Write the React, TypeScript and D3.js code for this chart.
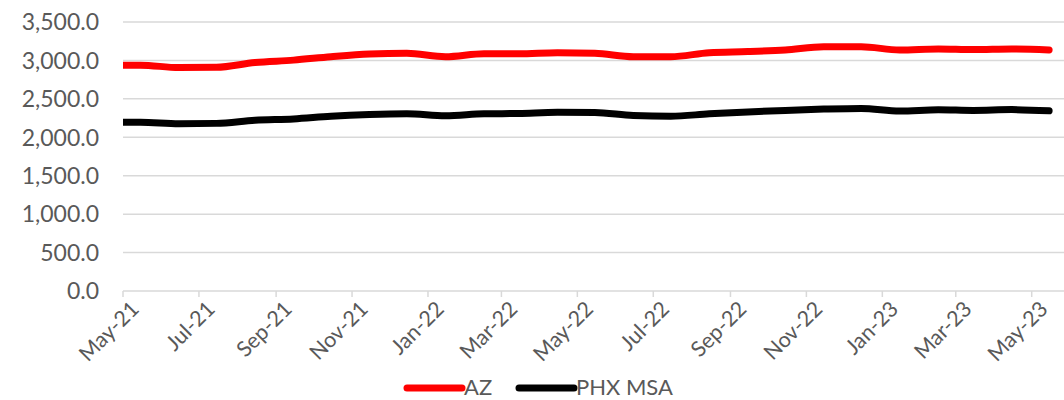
import React from "react";
import * as d3 from "d3";

const months = [
  "Apr-21", "May-21", "Jun-21", "Jul-21", "Aug-21", "Sep-21", "Oct-21", "Nov-21", "Dec-21",
  "Jan-22", "Feb-22", "Mar-22", "Apr-22", "May-22", "Jun-22", "Jul-22", "Aug-22", "Sep-22",
  "Oct-22", "Nov-22", "Dec-22", "Jan-23", "Feb-23", "Mar-23", "Apr-23", "May-23",
];
const azValues = [
  2938, 2938, 2907, 2911, 2973, 3004, 3049, 3084, 3093,
  3049, 3088, 3086, 3100, 3093, 3049, 3049, 3100, 3115,
  3137, 3177, 3177, 3137, 3150, 3142, 3150, 3137,
];
const phxValues = [
  2195, 2195, 2177, 2181, 2221, 2239, 2274, 2296, 2305,
  2279, 2305, 2310, 2325, 2323, 2283, 2274, 2305, 2330,
  2350, 2367, 2376, 2341, 2358, 2350, 2360, 2345,
];
const xTickLabels = [
  "May-21", "Jul-21", "Sep-21", "Nov-21", "Jan-22", "Mar-22", "May-22",
  "Jul-22", "Sep-22", "Nov-22", "Jan-23", "Mar-23", "May-23",
];
const yTicks = [0, 500, 1000, 1500, 2000, 2500, 3000, 3500];
const seriesNames = ["AZ", "PHX MSA"];
const seriesColors = ["#ff0000", "#000000"];

const W = 1064;
const H = 400;
const FONT = "Lato, 'Open Sans', sans-serif";
const TEXT = "#595959";
const GRID = "#d9d9d9";

export default function App() {
  const parse = d3.timeParse("%b-%y");
  const pointDates = months.map((m) => d3.timeDay.offset(parse(m) as Date, 14));
  const tickDates = xTickLabels.map((m) => parse(m) as Date);

  const xMin = new Date(2021, 4, 1);
  const xMax = new Date(2023, 5, 1);
  const x0 = 123;
  const pxPerDay = (1031.7 - 123) / 730;
  const x1 = x0 + d3.timeDay.count(xMin, xMax) * pxPerDay;
  const x = d3.scaleTime().domain([xMin, xMax]).range([x0, x1]);
  const y = d3.scaleLinear().domain([0, 3500]).range([291, 22]);

  const line = d3
    .line<number>()
    .x((_, i) => x(pointDates[i]))
    .y((v) => y(v))
    .curve(d3.curveMonotoneX);

  const series = [azValues, phxValues];

  return (
    <svg
      width={W}
      height={H}
      style={{ position: "absolute", left: 0, top: 0, background: "#fff" }}
      fontFamily={FONT}
    >
      <defs>
        <clipPath id="plot">
          <rect x={x0} y={0} width={x1 - x0} height={300} />
        </clipPath>
      </defs>
      {yTicks.map((t) => (
        <g key={t}>
          <line x1={x0} x2={x1} y1={y(t)} y2={y(t)} stroke={GRID} strokeWidth={1.5} />
          <text
            x={99}
            y={y(t)}
            dy="0.36em"
            textAnchor="end"
            fontSize={23}
            fill={TEXT}
          >
            {d3.format(",.1f")(t)}
          </text>
        </g>
      ))}
      {tickDates.map((d, i) => (
        <g key={i}>
          <line x1={x(d)} x2={x(d)} y1={y(0)} y2={y(0) + 6} stroke={GRID} strokeWidth={1.5} />
          <text
            transform={`translate(${x(d) + 12},${y(0) + 14}) rotate(-45)`}
            textAnchor="end"
            dy="0.35em"
            fontSize={21.5}
            fill={TEXT}
          >
            {xTickLabels[i]}
          </text>
        </g>
      ))}
      <g clipPath="url(#plot)">
        {series.map((s, i) => (
          <path
            key={i}
            d={line(s) || ""}
            fill="none"
            stroke={seriesColors[i]}
            strokeWidth={7}
            strokeLinecap="round"
            strokeLinejoin="round"
          />
        ))}
      </g>
      {seriesNames.map((n, i) => {
        const lx = [407, 519][i];
        return (
          <g key={n}>
            <line
              x1={lx}
              x2={lx + 55}
              y1={388}
              y2={388}
              stroke={seriesColors[i]}
              strokeWidth={7}
              strokeLinecap="round"
            />
            <text x={lx + 57} y={388} dy="0.3em" fontSize={22} fill={TEXT}>
              {n}
            </text>
          </g>
        );
      })}
    </svg>
  );
}
